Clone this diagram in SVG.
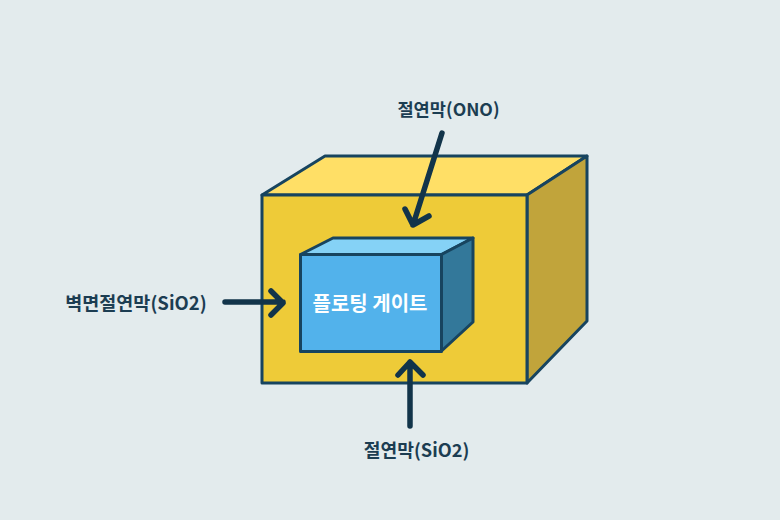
<svg xmlns="http://www.w3.org/2000/svg" width="780" height="520" viewBox="0 0 780 520">
<style>
.s{stroke:#17445f;stroke-width:3;stroke-linejoin:round}
.a{fill:none;stroke:#12344a;stroke-width:5.5;stroke-linecap:round;stroke-linejoin:round}
text{font-family:"Noto Sans CJK KR","Noto Sans",sans-serif;font-weight:700;font-size:18.2px;text-anchor:middle;fill:#1c3d52}
</style>
<rect width="780" height="520" fill="#e3ebed"/>
<g id="outer-box">
<polygon class="s" points="262,195 325,156 587,156 527,195" fill="#ffdf66"/>
<polygon class="s" points="527,195 587,156 587,321 527,383" fill="#c1a43b"/>
<rect class="s" x="262" y="195" width="265" height="188" fill="#eecb38"/>
</g>
<g id="floating-gate">
<polygon class="s" points="300.5,254.5 333,238 473,238 441.5,254.5" fill="#85d2f6"/>
<polygon class="s" points="441.5,254.5 473,238 473,322 441.5,351" fill="#33789a"/>
<rect class="s" x="300.5" y="254.5" width="141" height="97" fill="#52b2eb"/>
<text x="370" y="311" style="fill:#fff;font-size:20px">플로팅 게이트</text>
</g>
<g id="connectors">
<path class="a" d="M442,133L413,225M405,209L413,225L429,216"/>
<path class="a" d="M225,302H283M271,291L283,303L271,315"/>
<path class="a" d="M410,426V362M398,375L410,362L423,375"/>
</g>
<g id="label-ono"><text x="448.500" y="116" style="font-size:17.600px">절연막(ONO)</text></g>
<g id="label-wall"><text x="136" y="310" style="font-size:18.500px">벽면절연막(SiO2)</text></g>
<g id="label-sio2"><text x="416.500" y="457">절연막(SiO2)</text></g>
</svg>
